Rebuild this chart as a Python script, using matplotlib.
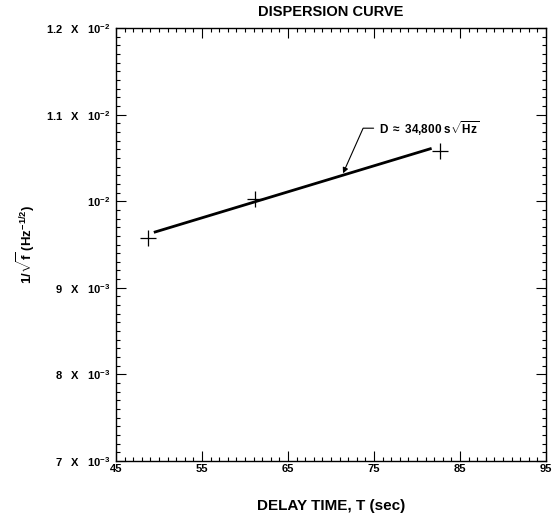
import numpy as np
import matplotlib
matplotlib.use('Agg')
import matplotlib.pyplot as plt
from matplotlib.ticker import MultipleLocator, FixedLocator, FixedFormatter

plt.rcParams['font.family'] = ['Liberation Sans', 'DejaVu Sans']
plt.rcParams['mathtext.fontset'] = 'custom'
plt.rcParams['mathtext.rm'] = 'Liberation Sans:bold'
plt.rcParams['mathtext.it'] = 'Liberation Sans:bold'
plt.rcParams['mathtext.bf'] = 'Liberation Sans:bold'

# measured points (delay time in s, 1/sqrt(f))
delay = [48.7, 61.2, 82.7]
inv_sqrt_f = [0.00958, 0.01003, 0.01058]

# fitted line endpoints
fit_t = [49.4, 81.7]
fit_y = [0.009640, 0.010610]

x_ticks = [45, 55, 65, 75, 85, 95]
y_ticks = [0.007, 0.008, 0.009, 0.010, 0.011, 0.012]
y_labels = [r'7   X   10$^{-3}$', r'8   X   10$^{-3}$', r'9   X   10$^{-3}$',
            r'10$^{-2}$', r'1.1   X   10$^{-2}$', r'1.2   X   10$^{-2}$']

fig = plt.figure(figsize=(5.6, 5.15), dpi=100)
ax = fig.add_axes([116/560, 1 - 461/515, 430/560, 433/515])

ax.plot(fit_t, fit_y, color='black', lw=2.0, solid_capstyle='butt')
ax.plot(delay, inv_sqrt_f, linestyle='none', marker='+', color='black',
        markersize=11, markeredgewidth=0.9)

ax.set_xlim(45, 95)
ax.set_ylim(0.007, 0.012)

ax.xaxis.set_major_locator(FixedLocator(x_ticks))
ax.xaxis.set_major_formatter(FixedFormatter([str(v) for v in x_ticks]))
ax.xaxis.set_minor_locator(MultipleLocator(1))

ax.yaxis.set_major_locator(FixedLocator(y_ticks))
ax.yaxis.set_major_formatter(FixedFormatter(y_labels))
ax.yaxis.set_minor_locator(MultipleLocator(0.0001))

ax.tick_params(which='both', direction='in', top=True, right=True,
               color='black', width=0.8)
ax.tick_params(which='major', length=7, labelsize=8, pad=4)
ax.tick_params(which='minor', length=3)
for lab in ax.get_xticklabels() + ax.get_yticklabels():
    lab.set_fontweight('bold')
ax.tick_params(axis='x', pad=2)

for s in ax.spines.values():
    s.set_linewidth(1.0)

ax.set_title('DISPERSION CURVE', fontsize=10.5, fontweight='bold', pad=9)
ax.set_xlabel('DELAY TIME, T (sec)', fontsize=11, fontweight='bold')
ax.xaxis.set_label_coords(0.5, -0.088)
ax.set_ylabel(r'1/$\sqrt{f}$ (Hz$^{-1/2}$)', fontsize=9.5, fontweight='bold')
ax.yaxis.set_label_coords(-0.184, 0.5)

ax.annotate(r'D $\approx$ 34,800 s$\sqrt{\mathrm{Hz}}$', xy=(71.4, 0.010322),
            xytext=(75.6, 0.010843), fontsize=8.5, fontweight='bold', va='center',
            arrowprops=dict(arrowstyle='-|>', color='black', lw=0.8,
                            mutation_scale=8, shrinkA=2, shrinkB=0,
                            connectionstyle='angle,angleA=0,angleB=66,rad=0'))

fig.savefig('out.png', dpi=100)
